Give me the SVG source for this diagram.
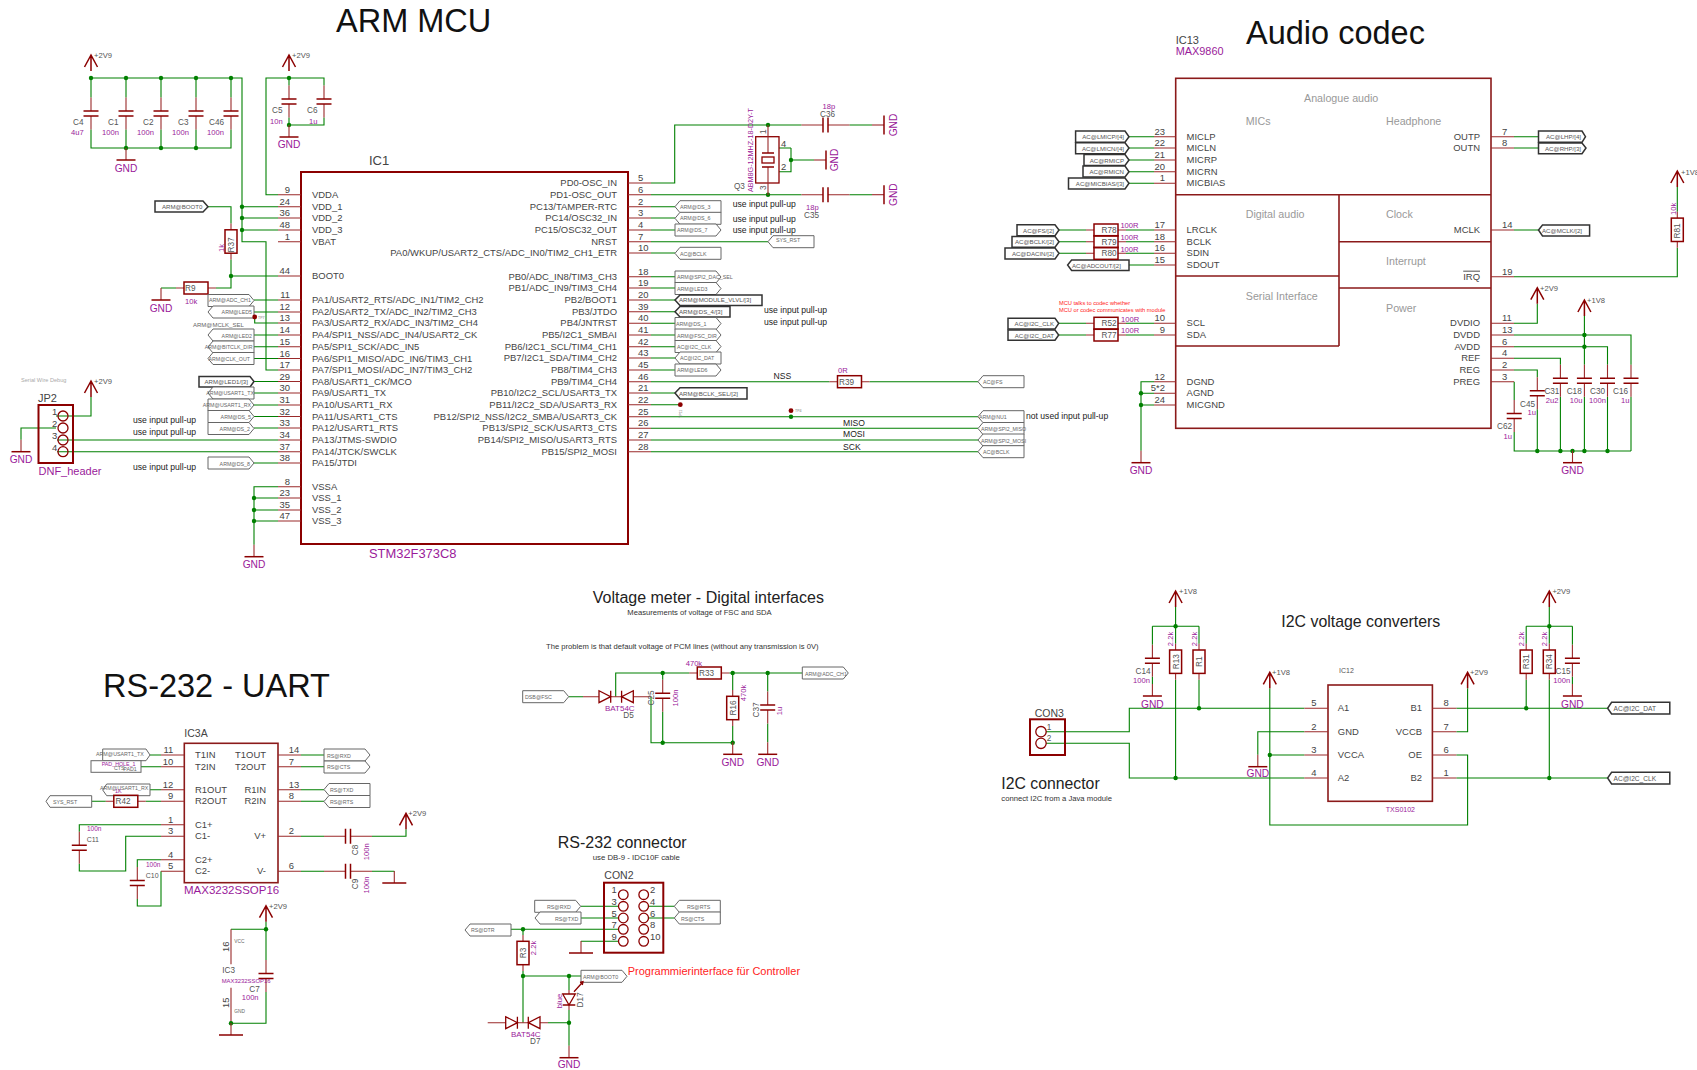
<svg xmlns="http://www.w3.org/2000/svg" width="1697" height="1070" viewBox="0 0 1697 1070" font-family="'Liberation Sans',Arial,sans-serif">
<style>
.w{fill:none;stroke:#008000;stroke-width:1.1}
.r{fill:none;stroke:#9a2a2a;stroke-width:1.1}
.b{fill:none;stroke:#8b0000;stroke-width:2}
.b2{fill:none;stroke:#8b1a1a;stroke-width:1.6}
.pl{fill:none;stroke:#8b0000;stroke-width:1.5}
.dc{fill:none;stroke:#8b0000;stroke-width:1.3}
.tag{fill:#fff;stroke:#666;stroke-width:1}
.tagd{fill:#fff;stroke:#333;stroke-width:1.5}
.p{font-size:9.45px;fill:#444}
.e{text-anchor:end}
.m{text-anchor:middle}
.v{font-size:7.6px;fill:#9a1a9a}
.l{font-size:8.2px;fill:#555}
.g{font-size:10.2px;fill:#9a1a9a;text-anchor:middle}
.s{font-size:7.6px;fill:#555}
.t{font-size:5.3px;fill:#666}
.td{font-size:6.1px;fill:#555}
.u{font-size:8.6px;fill:#222}
.h{font-size:32.5px;fill:#111}
.h2{font-size:15.9px;fill:#222}
.c{font-size:7.65px;fill:#333}
.sec{font-size:10.7px;fill:#999}
.pu{fill:#9a1a9a}
.jn circle{fill:#008000}
.tp{fill:#8b0000}
</style>
<defs>
<g id="sup"><path class="pl" d="M-6.5 12 0 0 6.5 12M0 0V16"/></g>
<g id="gnd"><path class="r" d="M0-12V0"/><path class="pl" d="M-9.5 0H9.5"/></g>
<g id="gnd2"><path class="r" d="M0-12V0"/><path class="pl" d="M-12 0H12"/></g>
<g id="cap"><path class="r" d="M0-16V-2.5M0 2.5V16"/><path class="pl" d="M-7.5-2.5H7.5M-7.5 2.5H7.5"/></g>
<g id="capl"><path class="r" d="M0-24V-2.5M0 2.5V24"/><path class="pl" d="M-7.5-2.5H7.5M-7.5 2.5H7.5"/></g>
<g id="rv"><path class="r" d="M0-18V-11.7M0 11.7V18"/><rect class="pl" x="-6" y="-11.7" width="12" height="23.4"/></g>
<g id="rh"><path class="r" d="M-20 0H-12M12 0H20"/><rect class="pl" x="-12" y="-6" width="24" height="12"/></g>
<g id="d"><path class="dc" d="M0-6V6L11.7 0ZM11.7-6V6"/></g>
<polygon id="tr" class="tag" points="0,0 41,0 46,6 41,12 0,12"/>
<polygon id="tl" class="tag" points="5,0 46,0 46,12 5,12 0,6"/>
</defs>

<g id="connectors">
<path class="w" d="M91 78H242V241.7H266V370H278M242 206.7H278M242 218H278M242 230H278M91 78V97.5M126 78V97.5M161 78V97.5M196 78V97.5M231 78V97.5M91 129.5V148H231V129.5M126 129.5V148M161 129.5V148M196 129.5V148"/>
<path class="w" d="M278 194.7H266V78H324V85.5M289 78V85.5M289 117.5V125H324V117.5M208 206.7H231V223.5M231 259.5V288H216M176 288H161M231 276H278"/>
<path class="w" d="M254 300H278M254 312H278M254.7 317V323H278M254 335H278M254 346.7H278M254 358.5H278M254 381.5H278M254 393H278M254 405H278M254 416.5H278M254 428H278M57 440H278M57 451.7H278M254 463H278M56 416H91V397M56 428H21V439.7M278 486.7H254V544.7M254 498H278M254 510H278M254 521H278"/>
<path class="w" d="M651 183H674.7V125H801.5M849.5 125H872M651 194.7H801.5M849.5 194.7H872M791 148H779M791 148V171.7H779M791 160H814M651 206.7H675M651 218H675M651 230H675M651 241.7H768M651 253H675M651 276.7H675M651 288H675M651 300H675M651 311.7H675M651 323.3H675M651 335H675M651 346.7H675M651 358H675M651 370H675M651 381.7H829.5M869.5 381.7H978M651 393H675M651 404.7H680.3M651 416.7H978M651 428.3H978M651 440H978M651 451.7H978"/>
<path class="w" d="M1129 136.7H1154M1129 148H1154M1129 160H1154M1129 171.7H1154M1129 183.3H1154M1514 136.7H1538.5M1514 148H1538.5M1514 230H1538.5M1514 276.7H1677.3V247.8M1677.3 187V211.8M1059 230H1086M1126 230H1154M1059 241.7H1086M1126 241.7H1154M1059 253.3H1086M1126 253.3H1154M1129 265H1154M1059 323.3H1086M1126 323.3H1154M1059 335H1086M1126 335H1154M1154 381.7H1141V450.7M1141 393.3H1154M1141 405H1154"/>
<path class="w" d="M1514 323.3H1537.3V303.7M1584.4 316V364.8M1584.4 396.8V451M1514 335H1631V364.8M1631 396.8V451M1514 346.7H1607.5V364.8M1607.5 396.8V451M1514 358.3H1560.4V364.8M1560.4 396.8V451M1514 370H1537.3V377.2M1537.3 409.2V451M1514.2 381.7V400M1514.2 432V451H1631"/>
<path class="w" d="M568.7 696.7H583M615.7 696.7V673H689.3M729.3 673H802.3M651 696.7V742.7H732.7M662.7 673V679.8M662.7 711.8V742.7M732.7 673V690M732.7 726V742.3M767.7 673V691.5M767.7 723.5V742.3"/>
<path class="w" d="M150 755H161M141 766.7H161M150 789.7H161M91.7 801.3H105.8M145.8 801.3H161M161 824.7H79.3V831.8M79.3 863.8V871H125.7V836.3H161M161 859.7H137.3V867M137.3 899V906H161V871.3M301 755H324M301 766.7H324M301 789.7H324M301 801.3H324M301 836.3H324M372 836.3H406V829.3M301 871.3H324M372 871.3H394.3"/>
<path class="w" d="M266 921.7V960M266 929.3H231M266 992V1023.3H231"/>
<path class="w" d="M581 906.3H618M581 918H618M511 929.3H618M618 941.3H581M648 906.3H674.3M648 918H674.3M523 929.3V935M523 971V1022.7M523 976H581M569 976V990M569 1010V1045.7M548 1022.7H569"/>
<path class="w" d="M1175.6 607V643.7M1152.4 626.3H1199M1175.6 679.7V778M1199 626.3V643.7M1199 679.7V708.3M1152.4 626.3V644.8M1152.4 676.8V684M1046 731.7H1129.3V708.3H1304.4M1046 743.3H1129.3V778H1304.4M1304.4 731.7H1257.8V754.7M1269.8 688.3V825H1467.6V755H1456.4M1269.8 755H1304.4M1467.6 688.3V731.7H1456.4M1456.4 708.3H1607.6M1456.4 778H1607.6M1549.3 607V643.7M1526.2 626.3H1572.4M1526.2 626.3V643.7M1526.2 679.7V708.3M1549.3 679.7V778M1572.4 626.3V644.8M1572.4 676.8V684"/>
<path class="r" d="M633.3 696.7H651M583 696.7H599M610.7 696.7H621.7M487.7 1022.7H505.7M517.3 1022.7H528.3M540 1022.7H548M569 990V994M569 1005V1010M231 929.3V964.3M231 987.7V1023.3"/>
<g class="jn">
<circle cx="91" cy="78" r="2.2"/><circle cx="126" cy="78" r="2.2"/><circle cx="161" cy="78" r="2.2"/><circle cx="196" cy="78" r="2.2"/><circle cx="231" cy="78" r="2.2"/><circle cx="126" cy="148" r="2.2"/><circle cx="161" cy="148" r="2.2"/><circle cx="196" cy="148" r="2.2"/><circle cx="289" cy="78" r="2.2"/><circle cx="289" cy="125" r="2.2"/><circle cx="242" cy="206.7" r="2.2"/><circle cx="242" cy="218" r="2.2"/><circle cx="242" cy="230" r="2.2"/><circle cx="231" cy="276" r="2.2"/><circle cx="254" cy="498" r="2.2"/><circle cx="254" cy="510" r="2.2"/><circle cx="254" cy="521" r="2.2"/>
<circle cx="768" cy="125" r="2.2"/><circle cx="768" cy="194.7" r="2.2"/><circle cx="791" cy="160" r="2.2"/><circle cx="791" cy="416.7" r="2.2"/>
<circle cx="1141" cy="393.3" r="2.2"/><circle cx="1141" cy="405" r="2.2"/><circle cx="1584.4" cy="335" r="2.2"/><circle cx="1584.4" cy="346.7" r="2.2"/><circle cx="1537.3" cy="451" r="2.2"/><circle cx="1560.4" cy="451" r="2.2"/><circle cx="1572.5" cy="451" r="2.2"/><circle cx="1584.4" cy="451" r="2.2"/><circle cx="1607.5" cy="451" r="2.2"/>
<circle cx="662.7" cy="673" r="2.2"/><circle cx="732.7" cy="673" r="2.2"/><circle cx="767.7" cy="673" r="2.2"/><circle cx="662.7" cy="742.7" r="2.2"/><circle cx="732.7" cy="742.7" r="2.2"/>
<circle cx="266" cy="929.3" r="2.2"/><circle cx="231" cy="1023.3" r="2.2"/>
<circle cx="523" cy="929.3" r="2.2"/><circle cx="523" cy="976" r="2.2"/><circle cx="569" cy="976" r="2.2"/><circle cx="569" cy="1022.7" r="2.2"/>
<circle cx="1175.6" cy="626.3" r="2.2"/><circle cx="1199" cy="708.3" r="2.2"/><circle cx="1175.6" cy="778" r="2.2"/><circle cx="1269.8" cy="755" r="2.2"/><circle cx="1526.2" cy="708.3" r="2.2"/><circle cx="1549.3" cy="626.3" r="2.2"/><circle cx="1549.3" cy="778" r="2.2"/>
</g>
</g>

<text class="h" x="336" y="32">ARM MCU</text>
<text class="h" x="1246" y="44">Audio codec</text>
<text class="h" x="103" y="697">RS-232 - UART</text>
<text class="h2" x="592.7" y="602.7" style="font-size:16px">Voltage meter - Digital interfaces</text>
<text class="c" x="627.3" y="614.7">Measurements of voltage of FSC and SDA</text>
<text class="c" x="546" y="649.3">The problem is that default voltage of PCM lines (without any transmission is 0V)</text>
<text class="h2" x="557.7" y="847.7" style="font-size:16px">RS-232 connector</text>
<text class="c" x="592.7" y="859.7" style="font-size:7.8px">use DB-9 - IDC10F cable</text>
<text class="h2" x="1281.3" y="626.7">I2C voltage converters</text>
<text class="h2" x="1001.3" y="789.3" style="font-size:15.8px">I2C connector</text>
<text class="c" x="1001.3" y="800.7" style="font-size:7.7px">connect I2C from a Java module</text>
<text x="1059" y="305" style="font-size:5.7px;fill:#f22">MCU talks to codec whether</text>
<text x="1059" y="311.7" style="font-size:5.7px;fill:#f22">MCU or codec communicates with module</text>
<text x="627.7" y="975" style="font-size:11px;fill:#f22">Programmierinterface für Controller</text>
<text class="u" x="133" y="423">use input pull-up</text>
<text class="u" x="133" y="435">use input pull-up</text>
<text class="u" x="133" y="470">use input pull-up</text>
<text class="u" x="732.7" y="207">use input pull-up</text>
<text class="u" x="732.7" y="222">use input pull-up</text>
<text class="u" x="732.7" y="233">use input pull-up</text>
<text class="u" x="764" y="313">use input pull-up</text>
<text class="u" x="764" y="325">use input pull-up</text>
<text class="u" x="1026" y="419">not used input pull-up</text>
<text class="u" x="773.5" y="379">NSS</text>
<text class="u" x="843" y="426">MISO</text>
<text class="u" x="843" y="437">MOSI</text>
<text class="u" x="843" y="450">SCK</text>

<g id="pwr-arm">
<use href="#sup" x="91" y="55"/><text class="s" x="94" y="58">+2V9</text>
<use href="#sup" x="289" y="55"/><text class="s" x="292" y="58">+2V9</text>
<use href="#gnd" x="126" y="160"/><text class="g" x="126" y="172">GND</text>
<use href="#gnd" x="289" y="137"/><text class="g" x="289" y="148">GND</text>
</g>
<g id="C4"><use href="#cap" x="91" y="113.5"/><text class="l" x="73" y="125">C4</text><text class="v" x="71" y="135">4u7</text></g>
<g id="C1"><use href="#cap" x="126" y="113.5"/><text class="l" x="108" y="125">C1</text><text class="v" x="102" y="135">100n</text></g>
<g id="C2"><use href="#cap" x="161" y="113.5"/><text class="l" x="143" y="125">C2</text><text class="v" x="137" y="135">100n</text></g>
<g id="C3"><use href="#cap" x="196" y="113.5"/><text class="l" x="178" y="125">C3</text><text class="v" x="172" y="135">100n</text></g>
<g id="C46"><use href="#cap" x="231" y="113.5"/><text class="l" x="209" y="125">C46</text><text class="v" x="207" y="135">100n</text></g>
<g id="C5"><use href="#cap" x="289" y="101.5"/><text class="l" x="272" y="113">C5</text><text class="v" x="270" y="124">10n</text></g>
<g id="C6"><use href="#cap" x="324" y="101.5"/><text class="l" x="307" y="113">C6</text><text class="v" x="309" y="124">1u</text></g>
<g id="R37"><use href="#rv" x="231" y="241.5"/><text class="l" transform="translate(234,252.5) rotate(-90)">R37</text><text class="v" transform="translate(224,252) rotate(-90)">1k</text></g>
<g id="R9"><use href="#rh" x="196" y="288"/><text class="l" x="185" y="291">R9</text><text class="v" x="185" y="304">10k</text><use href="#gnd" x="161" y="300"/><text class="g" x="161" y="312">GND</text></g>

<g id="IC1">
<rect class="b" x="301" y="172" width="327" height="372"/>
<path class="r" d="M278 194.7H301M278 206.7H301M278 218H301M278 230H301M278 241.7H301M278 276H301M278 300H301M278 312H301M278 323H301M278 335H301M278 346.7H301M278 358.5H301M278 370H301M278 381.5H301M278 393H301M278 405H301M278 416.5H301M278 428H301M278 440H301M278 451.7H301M278 463H301M278 486.7H301M278 498H301M278 510H301M278 521H301M628 183H651M628 194.7H651M628 206.7H651M628 218H651M628 230H651M628 241.7H651M628 253H651M628 276.7H651M628 288H651M628 300H651M628 311.7H651M628 323.3H651M628 335H651M628 346.7H651M628 358H651M628 370H651M628 381.7H651M628 393H651M628 404.7H651M628 416.7H651M628 428.3H651M628 440H651M628 451.7H651"/>
<text x="369" y="165" style="font-size:13px;fill:#444">IC1</text>
<text x="369" y="558" class="pu" style="font-size:12.9px">STM32F373C8</text>
<g class="p" transform="translate(0,-1)">
<text x="312" y="198.7">VDDA</text><text x="312" y="210.7">VDD_1</text><text x="312" y="222">VDD_2</text><text x="312" y="234">VDD_3</text><text x="312" y="245.7">VBAT</text><text x="312" y="280">BOOT0</text>
<text x="312" y="304">PA1/USART2_RTS/ADC_IN1/TIM2_CH2</text><text x="312" y="316">PA2/USART2_TX/ADC_IN2/TIM2_CH3</text><text x="312" y="327">PA3/USART2_RX/ADC_IN3/TIM2_CH4</text><text x="312" y="339">PA4/SPI1_NSS/ADC_IN4/USART2_CK</text><text x="312" y="350.7">PA5/SPI1_SCK/ADC_IN5</text><text x="312" y="362.5">PA6/SPI1_MISO/ADC_IN6/TIM3_CH1</text><text x="312" y="374">PA7/SPI1_MOSI/ADC_IN7/TIM3_CH2</text><text x="312" y="385.5">PA8/USART1_CK/MCO</text><text x="312" y="397">PA9/USART1_TX</text><text x="312" y="409">PA10/USART1_RX</text><text x="312" y="420.5">PA11/USART1_CTS</text><text x="312" y="432">PA12/USART1_RTS</text><text x="312" y="444">PA13/JTMS-SWDIO</text><text x="312" y="455.7">PA14/JTCK/SWCLK</text><text x="312" y="467">PA15/JTDI</text>
<text x="312" y="490.7">VSSA</text><text x="312" y="502">VSS_1</text><text x="312" y="514">VSS_2</text><text x="312" y="525">VSS_3</text>
<g class="e">
<text x="617" y="187">PD0-OSC_IN</text><text x="617" y="198.7">PD1-OSC_OUT</text><text x="617" y="210.7">PC13/TAMPER-RTC</text><text x="617" y="222">PC14/OSC32_IN</text><text x="617" y="234">PC15/OSC32_OUT</text><text x="617" y="245.7">NRST</text><text x="617" y="257">PA0/WKUP/USART2_CTS/ADC_IN0/TIM2_CH1_ETR</text>
<text x="617" y="280.7">PB0/ADC_IN8/TIM3_CH3</text><text x="617" y="292">PB1/ADC_IN9/TIM3_CH4</text><text x="617" y="304">PB2/BOOT1</text><text x="617" y="315.7">PB3/JTDO</text><text x="617" y="327.3">PB4/JNTRST</text><text x="617" y="339">PB5/I2C1_SMBAI</text><text x="617" y="350.7">PB6/I2C1_SCL/TIM4_CH1</text><text x="617" y="362">PB7/I2C1_SDA/TIM4_CH2</text><text x="617" y="374">PB8/TIM4_CH3</text><text x="617" y="385.7">PB9/TIM4_CH4</text><text x="617" y="397">PB10/I2C2_SCL/USART3_TX</text><text x="617" y="408.7">PB11/I2C2_SDA/USART3_RX</text><text x="617" y="420.7">PB12/SPI2_NSS/I2C2_SMBA/USART3_CK</text><text x="617" y="432.3">PB13/SPI2_SCK/USART3_CTS</text><text x="617" y="444">PB14/SPI2_MISO/USART3_RTS</text><text x="617" y="455.7">PB15/SPI2_MOSI</text>
</g>
</g>
<g class="p">
<g class="e">
<text x="290" y="192.7">9</text><text x="290" y="204.7">24</text><text x="290" y="216">36</text><text x="290" y="228">48</text><text x="290" y="239.7">1</text><text x="290" y="274">44</text><text x="290" y="298">11</text><text x="290" y="310">12</text><text x="290" y="321">13</text><text x="290" y="333">14</text><text x="290" y="344.7">15</text><text x="290" y="356.5">16</text><text x="290" y="368">17</text><text x="290" y="379.5">29</text><text x="290" y="391">30</text><text x="290" y="403">31</text><text x="290" y="414.5">32</text><text x="290" y="426">33</text><text x="290" y="438">34</text><text x="290" y="449.7">37</text><text x="290" y="461">38</text><text x="290" y="484.7">8</text><text x="290" y="496">23</text><text x="290" y="508">35</text><text x="290" y="519">47</text>
</g>
<text x="638" y="181">5</text><text x="638" y="192.7">6</text><text x="638" y="204.7">2</text><text x="638" y="216">3</text><text x="638" y="228">4</text><text x="638" y="239.7">7</text><text x="638" y="251">10</text><text x="638" y="274.7">18</text><text x="638" y="286">19</text><text x="638" y="298">20</text><text x="638" y="309.7">39</text><text x="638" y="321.3">40</text><text x="638" y="333">41</text><text x="638" y="344.7">42</text><text x="638" y="356">43</text><text x="638" y="368">45</text><text x="638" y="379.7">46</text><text x="638" y="391">21</text><text x="638" y="402.7">22</text><text x="638" y="414.7">25</text><text x="638" y="426.3">26</text><text x="638" y="438">27</text><text x="638" y="449.7">28</text>
</g>
</g>

<g id="tags-arm-left">
<g id="t1"><polygon class="tagd" points="155,201 203,201 208,206.7 203,212 155,212"/><text class="td" x="162" y="209">ARM@BOOT0</text></g>
<g id="t2"><use href="#tr" x="208" y="294.5"/><text class="t" x="209" y="302">ARM@ADC_CH1</text></g>
<g id="t3"><use href="#tl" x="208" y="306"/><text class="t e" x="252" y="314">ARM@LED5</text></g>
<g id="tp7"><circle class="tp" cx="254.7" cy="317" r="2.4"/><text x="258" y="319" style="font-size:3.6px;fill:#777">TP7</text></g>
<text x="193" y="326.5" style="font-size:6px;fill:#666">ARM@MCLK_SEL</text>
<g id="t4"><use href="#tl" x="208" y="329"/><text class="t e" x="252" y="337.5">ARM@LED2</text></g>
<g id="t5"><use href="#tl" x="208" y="341"/><text class="t e" x="252.5" y="349">ARM@BITCLK_DIR</text></g>
<g id="t6"><use href="#tl" x="208" y="352.5"/><text class="t e" x="250" y="361">ARM@CLK_OUT</text></g>
<g id="t7"><polygon class="tagd" points="199,376.5 250,376.5 254,381.5 250,387 199,387"/><text class="td" x="204.5" y="384">ARM@LED1/[3]</text></g>
<g id="t8"><use href="#tl" x="208" y="387"/><text class="t e" x="254" y="395">ARM@USART1_TX</text></g>
<g id="t9"><use href="#tr" x="208" y="399"/><text class="t e" x="251" y="407">ARM@USART1_RX</text></g>
<g id="t10"><use href="#tr" x="208" y="410.5"/><text class="t e" x="251" y="419">ARM@DS_5</text></g>
<g id="t11"><use href="#tr" x="208" y="422.5"/><text class="t e" x="250" y="430.5">ARM@DS_2</text></g>
<g id="t12"><use href="#tr" x="208" y="457"/><text class="t e" x="250" y="465.5">ARM@DS_8</text></g>
</g>

<g id="JP2">
<rect class="b" x="38.5" y="405" width="34.5" height="58"/>
<circle class="dc" cx="63" cy="416" r="5"/><circle class="dc" cx="63" cy="428" r="5"/><circle class="dc" cx="63" cy="440" r="5"/><circle class="dc" cx="63" cy="451.7" r="5"/>
<text x="38" y="402" style="font-size:11px;fill:#444">JP2</text>
<g class="p"><text x="52" y="415">1</text><text x="52" y="427">2</text><text x="52" y="439">3</text><text x="52" y="450.5">4</text></g>
<text x="38.5" y="475" class="pu" style="font-size:11px">DNF_header</text>
<text x="21" y="382" style="font-size:5.6px;fill:#aaa">Serial Wire Debug</text>
<use href="#sup" x="91" y="381"/><text class="s" x="94" y="384">+2V9</text>
<use href="#gnd" x="21" y="451.7"/><text class="g" x="21" y="463">GND</text>
</g>
<g id="gnd-vss"><use href="#gnd" x="254" y="556.7"/><text class="g" x="254" y="568">GND</text></g>

<g id="Q3">
<rect class="dc" x="755.7" y="136.7" width="23.3" height="46.3"/>
<path class="r" d="M768 125V153M768 167V195"/><path class="dc" d="M762 153H774M762 167H774"/><rect class="dc" x="762" y="157" width="12" height="6"/>
<use href="#gnd" x="0" y="0" transform="translate(826,160) rotate(-90)"/>
<text class="g" transform="translate(837.5,160) rotate(-90)">GND</text>
<text class="p" x="781" y="147">4</text><text class="p" x="781" y="170">2</text>
<text class="l" transform="translate(766,134) rotate(-90)">1</text><text class="l" transform="translate(766,190) rotate(-90)">3</text>
<text class="l" x="734" y="189">Q3</text>
<text class="v" transform="translate(753,192) rotate(-90)" style="font-size:7.2px">ABM8G-12MHZ-18-D2Y-T</text>
</g>
<g id="C36"><use href="#capl" transform="translate(825.5,125) rotate(90)"/><text class="v" x="822.5" y="109">18p</text><text class="l" x="820" y="117">C36</text><use href="#gnd" transform="translate(884,125) rotate(-90)"/><text class="g" transform="translate(896.5,125) rotate(-90)">GND</text></g>
<g id="C35"><use href="#capl" transform="translate(825.5,194.7) rotate(90)"/><text class="v" x="806" y="210">18p</text><text class="l" x="804" y="218">C35</text><use href="#gnd" transform="translate(884,194.7) rotate(-90)"/><text class="g" transform="translate(896.5,194.7) rotate(-90)">GND</text></g>

<g id="tags-arm-right">
<g id="t20"><use href="#tl" x="675" y="200.7"/><text class="t" x="680" y="208.7">ARM@DS_3</text></g>
<g id="t21"><use href="#tl" x="675" y="212.3"/><text class="t" x="680" y="220">ARM@DS_6</text></g>
<g id="t22"><use href="#tr" x="675" y="224"/><text class="t" x="677" y="232">ARM@DS_7</text></g>
<g id="t23"><use href="#tl" x="768" y="235.7"/><text class="t" x="776" y="242">SYS_RST</text></g>
<g id="t24"><use href="#tl" x="675" y="247.3"/><text class="t" x="680" y="256">AC@BCLK</text></g>
<g id="t25"><use href="#tr" x="675" y="271"/><text class="t" x="677" y="278.5">ARM@SPI2_DAC_SEL</text></g>
<g id="t26"><use href="#tr" x="675" y="282.5"/><text class="t" x="677" y="290.5">ARM@LED3</text></g>
<g id="t27"><polygon class="tagd" points="680,295 762,295 762,305.5 680,305.5 675,300"/><text class="td" x="679" y="302">ARM@MODULE_VLVL/[3]</text></g>
<g id="t28"><polygon class="tagd" points="680,306.5 730,306.5 730,317 680,317 675,311.7"/><text class="td" x="679" y="314">ARM@DS_4/[3]</text></g>
<g id="t29"><use href="#tr" x="675" y="317.5"/><text class="t" x="676" y="325.5">ARM@DS_1</text></g>
<g id="t30"><use href="#tr" x="675" y="329"/><text class="t" x="677" y="337.5">ARM@FSC_DIR</text></g>
<g id="t31"><use href="#tr" x="675" y="340.5"/><text class="t" x="677" y="348.5">AC@I2C_CLK</text></g>
<g id="t32"><use href="#tl" x="675" y="352"/><text class="t" x="680" y="360">AC@I2C_DAT</text></g>
<g id="t33"><use href="#tr" x="675" y="364"/><text class="t" x="677" y="372">ARM@LED6</text></g>
<g id="t34"><use href="#tl" x="978" y="375.7"/><text class="t" x="983" y="384">AC@FS</text></g>
<g id="t35"><polygon class="tagd" points="680,387.7 747,387.7 747,399 680,399 675,393"/><text class="td" x="679" y="395.5">ARM@BCLK_SEL/[2]</text></g>
<g id="t36"><use href="#tl" x="978" y="410.7"/><text class="t" x="979" y="419">ARM@NU1</text></g>
<g id="t37"><use href="#tl" x="978" y="422.5"/><text class="t" x="981" y="431">ARM@SPI2_MISO</text></g>
<g id="t38"><use href="#tl" x="978" y="434"/><text class="t" x="981" y="442.5">ARM@SPI2_MOSI</text></g>
<g id="t39"><use href="#tl" x="978" y="445.7"/><text class="t" x="983" y="454">AC@BCLK</text></g>
</g>
<g id="R39"><use href="#rh" x="849.5" y="381.7"/><text class="l" x="839" y="385">R39</text><text class="v" x="838" y="373">0R</text></g>
<g id="tp11"><circle class="tp" cx="680.3" cy="404.7" r="2.4"/><text transform="translate(682,418) rotate(-90)" style="font-size:3.6px;fill:#777">TP11</text></g>
<g id="tp4"><circle class="tp" cx="791" cy="410.7" r="2.4"/><text x="795" y="412" style="font-size:3.6px;fill:#777">TP4</text></g>

<g id="IC13">
<rect class="b2" x="1175.7" y="78.3" width="315.3" height="350"/>
<path class="b2" d="M1175.7 194.7H1491M1339 194.7V346M1339 241.7H1491M1175.7 276H1339M1339 288H1491M1175.7 346H1339"/>
<path class="r" d="M1154 136.7H1175.7M1154 148H1175.7M1154 160H1175.7M1154 171.7H1175.7M1154 183.3H1175.7M1154 230H1175.7M1154 241.7H1175.7M1154 253.3H1175.7M1154 265H1175.7M1154 323.3H1175.7M1154 335H1175.7M1154 381.7H1175.7M1154 393.3H1175.7M1154 405H1175.7M1491 136.7H1514M1491 148H1514M1491 230H1514M1491 276.7H1514M1491 323.3H1514M1491 335H1514M1491 346.7H1514M1491 358.3H1514M1491 370H1514M1491 381.7H1514"/>
<text x="1175.7" y="44" style="font-size:11px;fill:#444">IC13</text>
<text x="1175.7" y="55" class="pu" style="font-size:10.9px">MAX9860</text>
<g class="sec"><text x="1304" y="101.7">Analogue audio</text><text x="1245.7" y="125">MICs</text><text x="1386" y="125">Headphone</text><text x="1245.7" y="217.5">Digital audio</text><text x="1386" y="217.5">Clock</text><text x="1386" y="265">Interrupt</text><text x="1245.8" y="300">Serial Interface</text><text x="1386" y="311.7">Power</text></g>
<g class="p" transform="translate(0,-1)">
<text x="1186.6" y="140.7">MICLP</text><text x="1186.6" y="152">MICLN</text><text x="1186.6" y="164">MICRP</text><text x="1186.6" y="175.7">MICRN</text><text x="1186.6" y="187.3">MICBIAS</text><text x="1186.6" y="234">LRCLK</text><text x="1186.6" y="245.7">BCLK</text><text x="1186.6" y="257.3">SDIN</text><text x="1186.6" y="269">SDOUT</text><text x="1186.6" y="327.3">SCL</text><text x="1186.6" y="339">SDA</text><text x="1186.6" y="385.7">DGND</text><text x="1186.6" y="397.3">AGND</text><text x="1186.6" y="409">MICGND</text>
<g class="e">
<text x="1480" y="140.7">OUTP</text><text x="1480" y="152">OUTN</text><text x="1480" y="234">MCLK</text><text x="1480" y="280.7" text-decoration="overline">IRQ</text><text x="1480" y="327.3">DVDIO</text><text x="1480" y="339">DVDD</text><text x="1480" y="350.7">AVDD</text><text x="1480" y="362.3">REF</text><text x="1480" y="374">REG</text><text x="1480" y="385.7">PREG</text>
</g>
</g>
<g class="p">
<g class="e">
<text x="1165" y="134.7">23</text><text x="1165" y="146">22</text><text x="1165" y="158">21</text><text x="1165" y="169.7">20</text><text x="1165" y="181.3">1</text><text x="1165" y="228">17</text><text x="1165" y="239.7">18</text><text x="1165" y="251.3">16</text><text x="1165" y="263">15</text><text x="1165" y="321.3">10</text><text x="1165" y="333">9</text><text x="1165" y="379.7">12</text><text x="1165" y="391.3">5*2</text><text x="1165" y="403">24</text>
</g>
<text x="1502" y="134.7">7</text><text x="1502" y="146">8</text><text x="1502" y="228">14</text><text x="1502" y="274.7">19</text><text x="1502" y="321.3">11</text><text x="1502" y="333">13</text><text x="1502" y="344.7">6</text><text x="1502" y="356.3">4</text><text x="1502" y="368">2</text><text x="1502" y="379.7">3</text>
</g>
</g>

<g id="tags-audio">
<g id="a1"><polygon class="tagd" points="1075.6,131 1125,131 1129,136.7 1125,142.3 1075.6,142.3"/><text class="td e" x="1124" y="139">AC@LMICP/[4]</text></g>
<g id="a2"><polygon class="tagd" points="1075.6,142.7 1125,142.7 1129,148 1125,153.7 1075.6,153.7"/><text class="td e" x="1124" y="150.5">AC@LMICN/[4]</text></g>
<g id="a3"><polygon class="tagd" points="1084,154.5 1125,154.5 1129,160 1125,165.5 1084,165.5"/><text class="td e" x="1124" y="162.5">AC@RMICP</text></g>
<g id="a4"><polygon class="tagd" points="1083,166 1125,166 1129,171.7 1125,177 1083,177"/><text class="td e" x="1124" y="174">AC@RMICN</text></g>
<g id="a5"><polygon class="tagd" points="1068.5,178 1125,178 1129,183.3 1125,189 1068.5,189"/><text class="td e" x="1124" y="185.7">AC@MICBIAS/[3]</text></g>
<g id="a6"><polygon class="tagd" points="1538.5,131 1582,131 1585.5,136.7 1582,142.3 1538.5,142.3"/><text class="td e" x="1581" y="139">AC@LHP/[4]</text></g>
<g id="a7"><polygon class="tagd" points="1538.5,143 1582,143 1586,148 1582,153.7 1538.5,153.7"/><text class="td e" x="1581" y="150.5">AC@RHP/[3]</text></g>
<g id="a8"><polygon class="tagd" points="1542.5,225 1589.6,225 1589.6,236 1542.5,236 1538.5,230"/><text class="td" x="1542" y="232.5">AC@MCLK/[2]</text></g>
<g id="a9"><polygon class="tagd" points="1017,224.7 1055,224.7 1059,230 1055,235.7 1017,235.7"/><text class="td e" x="1054" y="232.5">AC@FS/[2]</text></g>
<g id="a10"><polygon class="tagd" points="1012,236.5 1055,236.5 1059,241.7 1055,247.3 1012,247.3"/><text class="td e" x="1054" y="244">AC@BCLK/[2]</text></g>
<g id="a11"><polygon class="tagd" points="1005,248 1055,248 1059,253.3 1055,259 1005,259"/><text class="td e" x="1054" y="255.7">AC@DACIN/[2]</text></g>
<g id="a12"><polygon class="tagd" points="1071.6,260 1129,260 1129,270.5 1071.6,270.5 1067.6,265"/><text class="td" x="1072" y="267.5">AC@ADCOUT/[2]</text></g>
<g id="a13"><polygon class="tagd" points="1008,318.3 1055,318.3 1058.7,323.3 1055,329 1008,329"/><text class="td e" x="1054" y="325.7">AC@I2C_CLK</text></g>
<g id="a14"><polygon class="tagd" points="1008,330 1055,330 1058.7,335 1055,340.3 1008,340.3"/><text class="td e" x="1054" y="337.5">AC@I2C_DAT</text></g>
</g>
<g id="R78"><use href="#rh" x="1106" y="230"/><text class="l e" x="1116.5" y="233">R78</text><text class="v" x="1120.4" y="228">100R</text></g>
<g id="R79"><use href="#rh" x="1106" y="241.7"/><text class="l e" x="1116.5" y="244.7">R79</text><text class="v" x="1120.4" y="240">100R</text></g>
<g id="R80"><use href="#rh" x="1106" y="253.3"/><text class="l e" x="1116.5" y="256.3">R80</text><text class="v" x="1120.4" y="252">100R</text></g>
<g id="R52"><use href="#rh" x="1106" y="323.3"/><text class="l e" x="1116.5" y="326.3">R52</text><text class="v" x="1121" y="322">100R</text></g>
<g id="R77"><use href="#rh" x="1106" y="335"/><text class="l e" x="1116.5" y="338">R77</text><text class="v" x="1121" y="333">100R</text></g>
<g id="R81"><use href="#rv" x="1677.3" y="229.8"/><text class="l" transform="translate(1680,238.5) rotate(-90)">R81</text><text class="v" transform="translate(1676,215) rotate(-90)">10k</text><use href="#sup" x="1677.3" y="171"/><text class="s" x="1681" y="175">+1V8</text></g>
<g id="pwr-audio">
<use href="#gnd" x="1141" y="462.7"/><text class="g" x="1141" y="474">GND</text>
<use href="#gnd" x="1572.5" y="462.7"/><text class="g" x="1572.5" y="474">GND</text>
<use href="#sup" x="1537.3" y="287.7"/><text class="s" x="1540" y="290.7">+2V9</text>
<use href="#sup" x="1584.4" y="300"/><text class="s" x="1587" y="303">+1V8</text>
</g>
<g id="C31"><use href="#cap" x="1560.4" y="380.8"/><text class="l" x="1544.4" y="394">C31</text><text class="v" x="1545.8" y="403.3">2u2</text></g>
<g id="C18"><use href="#cap" x="1584.4" y="380.8"/><text class="l" x="1566.7" y="394">C18</text><text class="v" x="1569.8" y="403.3">10u</text></g>
<g id="C30"><use href="#cap" x="1607.5" y="380.8"/><text class="l" x="1590" y="394">C30</text><text class="v" x="1589" y="403.3">100n</text></g>
<g id="C16"><use href="#cap" x="1631" y="380.8"/><text class="l" x="1613" y="394">C16</text><text class="v" x="1621" y="403.3">1u</text></g>
<g id="C45"><use href="#cap" x="1537.3" y="393.2"/><text class="l" x="1520" y="406.7">C45</text><text class="v" x="1527.5" y="414.7">1u</text></g>
<g id="C62"><use href="#cap" x="1514.2" y="416"/><text class="l" x="1497" y="429">C62</text><text class="v" x="1503.5" y="439">1u</text></g>

<g id="voltmeter">
<g id="t40"><use href="#tr" x="522.7" y="690.7"/><text class="t" x="525" y="699">DSB@FSC</text></g>
<g id="t41"><use href="#tr" x="802.3" y="667"/><text class="t" x="805" y="675.5">ARM@ADC_CH1</text></g>
<g id="D5"><use href="#d" x="599" y="696.7"/><use href="#d" transform="translate(633.3,696.7) scale(-1,1)"/><text class="v" x="605" y="710.7" style="font-size:8px">BAT54C</text><text class="l" x="623.3" y="717.7">D5</text></g>
<g id="R33"><use href="#rh" x="709.3" y="673"/><text class="l" x="699" y="676">R33</text><text class="v" x="685.7" y="666">470k</text></g>
<g id="C25"><use href="#cap" x="662.7" y="695.8"/><text class="l m" transform="translate(654,698) rotate(-90)">C25</text><text class="v m" transform="translate(677.5,698) rotate(-90)">100n</text></g>
<g id="R16"><use href="#rv" x="732.7" y="708"/><text class="l m" transform="translate(735.5,708) rotate(-90)">R16</text><text class="v m" transform="translate(746,693) rotate(-90)">470k</text><use href="#gnd" x="732.7" y="754.3"/><text class="g" x="732.7" y="766">GND</text></g>
<g id="C37"><use href="#cap" x="767.7" y="707.5"/><text class="l m" transform="translate(758.5,710) rotate(-90)">C37</text><text class="v m" transform="translate(782,711) rotate(-90)">1u</text><use href="#gnd" x="767.7" y="754.3"/><text class="g" x="767.7" y="766">GND</text></g>
</g>

<g id="IC3A">
<rect class="b2" x="184.3" y="743.3" width="93.7" height="139.4"/>
<path class="r" d="M161 755H184.3M161 766.7H184.3M161 789.7H184.3M161 801.3H184.3M161 824.7H184.3M161 836.3H184.3M161 859.7H184.3M161 871.3H184.3M278 755H301M278 766.7H301M278 789.7H301M278 801.3H301M278 836.3H301M278 871.3H301"/>
<text x="184.3" y="736.7" style="font-size:10.5px;fill:#444">IC3A</text>
<text x="184" y="894.3" class="pu" style="font-size:11.5px">MAX3232SSOP16</text>
<g class="p" transform="translate(0,-1)">
<text x="195" y="759">T1IN</text><text x="195" y="770.7">T2IN</text><text x="195" y="793.7">R1OUT</text><text x="195" y="805.3">R2OUT</text><text x="195" y="828.7">C1+</text><text x="195" y="840.3">C1-</text><text x="195" y="863.7">C2+</text><text x="195" y="875.3">C2-</text>
<g class="e"><text x="266" y="759">T1OUT</text><text x="266" y="770.7">T2OUT</text><text x="266" y="793.7">R1IN</text><text x="266" y="805.3">R2IN</text><text x="266" y="840.3">V+</text><text x="266" y="875.3">V-</text></g>
</g>
<g class="p">
<g class="e"><text x="173.3" y="753">11</text><text x="173.3" y="764.7">10</text><text x="173.3" y="787.7">12</text><text x="173.3" y="799.3">9</text><text x="173.3" y="822.7">1</text><text x="173.3" y="834.3">3</text><text x="173.3" y="857.7">4</text><text x="173.3" y="869.3">5</text></g>
<text x="288.7" y="753">14</text><text x="288.7" y="764.7">7</text><text x="288.7" y="787.7">13</text><text x="288.7" y="799.3">8</text><text x="288.7" y="834.3">2</text><text x="288.7" y="869.3">6</text>
</g>
</g>
<g id="tags-rs">
<g id="r1"><polygon class="tag" points="102.7,749 146,749 150,755 146,760.7 102.7,760.7"/><text class="t" x="96" y="755.5">ARM@USART1_TX</text></g>
<g id="r2"><rect class="tag" x="91" y="760.7" width="50" height="11.6"/><text x="101.7" y="765.7" class="pu" style="font-size:5.3px">PAD_HOLE_1</text><text class="t" x="114" y="769.7">CTS</text><text class="t" x="123.3" y="771">PAD1</text></g>
<g id="r3"><polygon class="tag" points="106.7,784 150,784 150,795.7 106.7,795.7 102.7,790"/><text class="t" x="100" y="789.7">ARM@USART1_RX</text></g>
<g id="r4"><polygon class="tag" points="50,795.7 91.7,795.7 91.7,807.3 50,807.3 46,801.3"/><text class="t" x="53" y="804">SYS_RST</text></g>
<g id="r5"><use href="#tr" x="324" y="749"/><text class="t" x="327" y="757.5">RS@RXD</text></g>
<g id="r6"><use href="#tr" x="324" y="761"/><text class="t" x="327" y="769">RS@CTS</text></g>
<g id="r7"><use href="#tl" x="324" y="783.5"/><text class="t" x="330" y="792">RS@TXD</text></g>
<g id="r8"><use href="#tl" x="324" y="795.5"/><text class="t" x="330" y="804">RS@RTS</text></g>
</g>
<g id="R42"><use href="#rh" x="125.8" y="801.3"/><text class="l" x="115.5" y="804.3">R42</text><text class="v" x="115" y="793.3" style="font-size:5.5px">1K</text></g>
<g id="C11"><use href="#cap" x="79.3" y="847.8"/><text class="v" x="87" y="831" style="font-size:6.5px">100n</text><text class="l" x="86.7" y="842.3" style="font-size:7px">C11</text></g>
<g id="C10"><use href="#cap" x="137.3" y="883"/><text class="v" x="146" y="867.3" style="font-size:6.5px">100n</text><text class="l" x="145.7" y="877.7" style="font-size:7px">C10</text></g>
<g id="C8"><use href="#capl" transform="translate(348,836.3) rotate(90)"/><text class="l m" transform="translate(358,850) rotate(-90)">C8</text><text class="v m" transform="translate(369,851.7) rotate(-90)">100n</text><use href="#sup" x="406" y="813.3"/><text class="s" x="408.3" y="816">+2V9</text></g>
<g id="C9"><use href="#capl" transform="translate(348,871.3) rotate(90)"/><text class="l m" transform="translate(358,884) rotate(-90)">C9</text><text class="v m" transform="translate(369,885) rotate(-90)">100n</text><use href="#gnd2" x="394.3" y="883"/></g>

<g id="IC3">
<use href="#sup" x="266" y="905.7"/><text class="s" x="269" y="909">+2V9</text>
<use href="#cap" x="266" y="976"/>
<use href="#gnd2" x="231" y="1035"/>
<text class="p" transform="translate(229,952) rotate(-90)">16</text>
<text class="p" transform="translate(229,1008) rotate(-90)">15</text>
<text x="234.3" y="943.3" style="font-size:4.8px;fill:#666">VCC</text>
<text x="234.3" y="1013.3" style="font-size:4.8px;fill:#666">GND</text>
<text class="l" x="222.3" y="973.3">IC3</text>
<text class="pu" x="221.7" y="982.5" style="font-size:5.9px">MAX3232SSOP16</text>
<text class="l" x="249.3" y="991.5">C7</text>
<text class="v" x="241.7" y="1000">100n</text>
</g>

<g id="CON2">
<rect class="b" x="604" y="882.7" width="59.3" height="70"/>
<g class="dc"><circle cx="623.3" cy="894.7" r="4.8"/><circle cx="623.3" cy="906.3" r="4.8"/><circle cx="623.3" cy="918" r="4.8"/><circle cx="623.3" cy="929.3" r="4.8"/><circle cx="623.3" cy="941.3" r="4.8"/><circle cx="643.7" cy="894.7" r="4.8"/><circle cx="643.7" cy="906.3" r="4.8"/><circle cx="643.7" cy="918" r="4.8"/><circle cx="643.7" cy="929.3" r="4.8"/><circle cx="643.7" cy="941.3" r="4.8"/></g>
<text x="604.3" y="879.3" style="font-size:10.5px;fill:#444">CON2</text>
<g class="p"><g class="e"><text x="616.7" y="893.3">1</text><text x="616.7" y="905">3</text><text x="616.7" y="916.7">5</text><text x="616.7" y="928">7</text><text x="616.7" y="940">9</text></g><text x="650" y="893.3">2</text><text x="650" y="905">4</text><text x="650" y="916.7">6</text><text x="650" y="928">8</text><text x="650" y="940">10</text></g>
</g>
<g id="tags-con">
<g id="c1"><use href="#tr" x="534.7" y="900.3"/><text class="t" x="547" y="908.5">RS@RXD</text></g>
<g id="c2"><use href="#tl" x="535" y="912"/><text class="t" x="555" y="920.5">RS@TXD</text></g>
<g id="c3"><use href="#tl" x="465" y="924"/><text class="t" x="471" y="932">RS@DTR</text></g>
<g id="c4"><use href="#tl" x="674.3" y="900.3"/><text class="t" x="687" y="908.5">RS@RTS</text></g>
<g id="c5"><use href="#tl" x="674.3" y="912"/><text class="t" x="681" y="920.5">RS@CTS</text></g>
<g id="c6"><use href="#tr" x="581" y="970.3"/><text class="t" x="583" y="979">ARM@BOOT0</text></g>
</g>
<g id="pwr-con"><use href="#gnd2" x="581" y="953"/></g>
<g id="R3"><use href="#rv" x="523" y="953"/><text class="l m" transform="translate(525.5,953) rotate(-90)">R3</text><text class="v m" transform="translate(536,948) rotate(-90)">2.2k</text></g>
<g id="D17"><path class="dc" d="M562.7 994H575.3L569 1005ZM562.7 1005H575.3M574 991.7 583 981.7M580 982.5 583 981.7 582.3 985"/><text class="v m" transform="translate(561.5,1001) rotate(-90)">blue</text><text class="l m" transform="translate(583,1000) rotate(-90)">D17</text><use href="#gnd" x="569" y="1057.7"/><text class="g" x="569" y="1068">GND</text></g>
<g id="D7"><use href="#d" x="505.7" y="1022.7"/><use href="#d" transform="translate(540,1022.7) scale(-1,1)"/><text class="v" x="511" y="1036.7" style="font-size:8px">BAT54C</text><text class="l" x="530" y="1044.3">D7</text></g>

<g id="IC12">
<rect class="b2" x="1328" y="685" width="104.4" height="116.3"/>
<path class="r" d="M1304.4 708.3H1328M1304.4 731.7H1328M1304.4 755H1328M1304.4 778H1328M1432.4 708.3H1456.4M1432.4 731.7H1456.4M1432.4 755H1456.4M1432.4 778H1456.4"/>
<text class="l" x="1339" y="672.7" style="font-size:7px">IC12</text>
<text class="v" x="1385.8" y="812.3" style="font-size:7px">TXS0102</text>
<g class="p" transform="translate(0,-1)"><text x="1337.8" y="712.3">A1</text><text x="1337.8" y="735.7">GND</text><text x="1337.8" y="759">VCCA</text><text x="1337.8" y="782">A2</text>
<g class="e"><text x="1422" y="712.3">B1</text><text x="1422" y="735.7">VCCB</text><text x="1422" y="759">OE</text><text x="1422" y="782">B2</text></g></g>
<g class="p"><g class="e"><text x="1316.4" y="706.3">5</text><text x="1316.4" y="729.7">2</text><text x="1316.4" y="753">3</text><text x="1316.4" y="776">4</text></g>
<text x="1443.5" y="706.3">8</text><text x="1443.5" y="729.7">7</text><text x="1443.5" y="753">6</text><text x="1443.5" y="776">1</text></g>
</g>
<g id="CON3">
<rect class="b" x="1030" y="719.3" width="35" height="35.7"/>
<circle class="dc" cx="1041" cy="731.7" r="5.2"/><circle class="dc" cx="1041" cy="743.3" r="5.2"/>
<text x="1034.7" y="716.7" style="font-size:10.5px;fill:#444">CON3</text>
<text class="l" x="1046.7" y="730">1</text><text class="l" x="1046.7" y="741">2</text>
</g>
<g id="pwr-i2c">
<use href="#sup" x="1175.6" y="591"/><text class="s" x="1179" y="593.5">+1V8</text>
<use href="#sup" x="1269.8" y="672.3"/><text class="s" x="1272" y="675">+1V8</text>
<use href="#sup" x="1467.6" y="672.3"/><text class="s" x="1470" y="675">+2V9</text>
<use href="#sup" x="1549.3" y="591"/><text class="s" x="1552.4" y="593.5">+2V9</text>
<use href="#gnd" x="1257.8" y="766.7"/><text class="g" x="1257.8" y="776.7">GND</text>
</g>
<g id="C14"><use href="#cap" x="1152.4" y="660.8"/><text class="l" x="1135.6" y="674.3">C14</text><text class="v" x="1133" y="683.3">100n</text><use href="#gnd" x="1152.4" y="696"/><text class="g" x="1152.4" y="707.7">GND</text></g>
<g id="R13"><use href="#rv" x="1175.6" y="661.7"/><text class="l m" transform="translate(1178.5,661.7) rotate(-90)">R13</text><text class="v m" transform="translate(1173,639) rotate(-90)">2.2k</text></g>
<g id="R1"><use href="#rv" x="1199" y="661.7"/><text class="l m" transform="translate(1202,661.7) rotate(-90)">R1</text><text class="v m" transform="translate(1197,639) rotate(-90)">2.2k</text></g>
<g id="R31"><use href="#rv" x="1526.2" y="661.7"/><text class="l m" transform="translate(1529,661.7) rotate(-90)">R31</text><text class="v m" transform="translate(1524,639) rotate(-90)">2.2k</text></g>
<g id="R34"><use href="#rv" x="1549.3" y="661.7"/><text class="l m" transform="translate(1552,661.7) rotate(-90)">R34</text><text class="v m" transform="translate(1547,639) rotate(-90)">2.2k</text></g>
<g id="C15"><use href="#cap" x="1572.4" y="660.8"/><text class="l" x="1555.6" y="674.3">C15</text><text class="v" x="1553.3" y="683.3">100n</text><use href="#gnd" x="1572.4" y="696"/><text class="g" x="1572.4" y="707.7">GND</text></g>
<g id="tags-i2c">
<g id="i1"><polygon class="tagd" points="1611.6,702.3 1669.8,702.3 1669.8,714 1611.6,714 1607.6,708.3"/><text x="1613.5" y="711" class="td" style="font-size:6.6px">AC@I2C_DAT</text></g>
<g id="i2"><polygon class="tagd" points="1611.6,772.3 1669.8,772.3 1669.8,784 1611.6,784 1607.6,778"/><text x="1613.5" y="781" class="td" style="font-size:6.6px">AC@I2C_CLK</text></g>
</g>
</svg>
